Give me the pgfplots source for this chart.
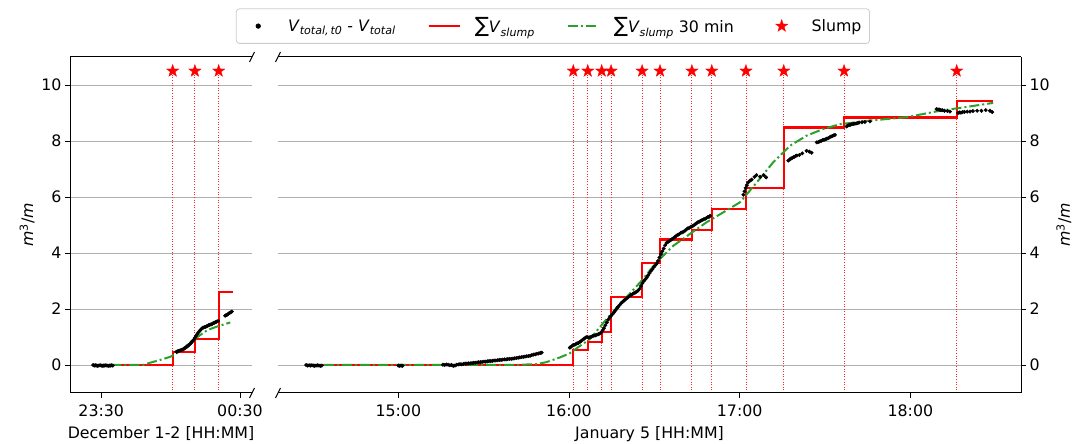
\documentclass[border=0pt]{standalone}
\usepackage{pgfplots}
\pgfplotsset{compat=1.18}
\usepackage{fontspec}
\setmainfont{DejaVu Sans}
\usetikzlibrary{plotmarks}
\definecolor{mygreen}{HTML}{2CA02C}
\definecolor{gridgray}{HTML}{B0B0B0}
\newcommand{\fs}{\fontsize{15.8}{19}\selectfont}

\pgfdeclareplotmark{fstar}{%
  \pgfpathmoveto{\pgfpointpolar{90}{\pgfplotmarksize}}%
  \pgfpathlineto{\pgfpointpolar{126}{0.4\pgfplotmarksize}}%
  \pgfpathlineto{\pgfpointpolar{162}{\pgfplotmarksize}}%
  \pgfpathlineto{\pgfpointpolar{198}{0.4\pgfplotmarksize}}%
  \pgfpathlineto{\pgfpointpolar{234}{\pgfplotmarksize}}%
  \pgfpathlineto{\pgfpointpolar{270}{0.4\pgfplotmarksize}}%
  \pgfpathlineto{\pgfpointpolar{306}{\pgfplotmarksize}}%
  \pgfpathlineto{\pgfpointpolar{342}{0.4\pgfplotmarksize}}%
  \pgfpathlineto{\pgfpointpolar{18}{\pgfplotmarksize}}%
  \pgfpathlineto{\pgfpointpolar{54}{0.4\pgfplotmarksize}}%
  \pgfpathclose
  \pgfusepathqfillstroke}

\pgfplotsset{
  mybase/.style={
    scale only axis, height=336pt, ymin=-1, ymax=11, ytick={0,2,4,6,8,10},
    ymajorgrids, grid style={gridgray, line width=0.9pt},
    axis line style={draw=none},
    tick align=outside, major tick length=5pt, tick style={black, line width=0.9pt},
    xtick pos=left,
    tick label style={font=\fs},
    xticklabel style={yshift=-3pt},
    label style={font=\fs},
    xlabel style={yshift=-3pt},
    /pgf/number format/assume math mode=true,
    clip=false,
    ylabel={\textit{m}\textsuperscript{3}/\textit{m}},
  },
  dotsty/.style={only marks, mark=*, mark size=1.75pt, black},
  stepsty/.style={red, line width=2.2pt, const plot},
  greensty/.style={mygreen, line width=2pt, dash pattern=on 10pt off 3pt on 2pt off 3pt},
  starsty/.style={only marks, red, mark=fstar, mark size=6.5pt, mark options={fill=red, draw=red, line width=0.3pt}},
  vlsty/.style={red!85, line width=0.8pt, dash pattern=on 1pt off 1.6pt, forget plot, unbounded coords=jump},
  legmark/.style={legend image code/.code={\path (0pt,0pt) (31pt,0pt); \draw[##1, mark size=2.2pt] plot coordinates {(15.5pt,0pt)};}},
  legstar/.style={legend image code/.code={\path (0pt,0pt) (31pt,0pt); \draw[##1] plot coordinates {(15.5pt,0pt)};}},
  legline/.style={legend image code/.code={\draw[##1] (0pt,0pt) -- (31pt,0pt);}},
}

\begin{document}
\begin{tikzpicture}
\useasboundingbox (0pt,0pt) rectangle (1087pt,444pt);

% ---------------- left panel ----------------
\begin{axis}[mybase, at={(70pt,51pt)}, anchor=south west, width=182pt,
  xmin=16.5, xmax=95.2, xtick={30,90}, xticklabels={23:30,00:30},
  ytick pos=left, xlabel={December 1-2 [HH:MM]}]
\addplot[vlsty] coordinates {(60.9,-1) (60.9,10.5) (60.9,nan) (70.5,-1) (70.5,10.5) (70.5,nan) (80.8,-1) (80.8,10.5)};
\addplot[dotsty] coordinates {
(26.5,0.0)(27,-0.02)(27.5,-0.01)(28,-0.02)(28.5,-0.03)(29,-0.02)(29.5,-0.01)(30,-0.02)(30.5,-0.03)(31,-0.02)(31.5,-0.02)(32,-0.01)(32.5,-0.02)(33,-0.03)(33.5,-0.02)(34,-0.02)(34.5,-0.01)(35,-0.02)
(62.5,0.47)(63,0.49)(63.5,0.5)(64,0.52)(64.5,0.53)(65,0.55)(65.5,0.56)(66,0.59)(66.5,0.62)(67,0.65)(67.5,0.68)(68,0.72)(68.5,0.76)(69,0.8)(69.5,0.85)(70,0.9)(70.5,0.97)(71,1.04)(71.5,1.1)(72,1.16)(72.5,1.21)(73,1.26)(73.5,1.3)(74,1.33)(74.5,1.35)(75,1.36)(75.5,1.38)(76,1.4)(76.5,1.42)(77,1.44)(77.5,1.45)(78,1.47)(78.5,1.5)(79,1.51)(79.5,1.53)(80,1.55)(80.5,1.57)
(83.6,1.76)(84,1.78)(84.5,1.8)(85,1.83)(85.5,1.86)(86,1.88)(86.5,1.91)};
\addplot[stepsty] coordinates {(26.6,0) (60.9,0.45) (70.5,0.92) (80.8,2.6) (86.9,2.6)};
\addplot[greensty] coordinates {(26.6,0) (48,0) (51.1,0.08) (55,0.17) (59.8,0.29) (62.6,0.42) (65.6,0.6) (69,0.85) (72.8,1.07) (76,1.25) (80,1.37) (85.8,1.52)};
\addplot[starsty] coordinates {(60.9,10.5) (70.5,10.5) (80.8,10.5)};
\draw[black, line width=1pt] (rel axis cs:0,0) -- (rel axis cs:1,0);
\draw[black, line width=1pt] (rel axis cs:0,1) -- (rel axis cs:1,1);
\draw[black, line width=1pt] (rel axis cs:0,0) -- (rel axis cs:0,1);
\draw[black, line width=1pt] ([xshift=-2.5pt,yshift=-5pt]rel axis cs:1,1) -- ([xshift=2.5pt,yshift=5pt]rel axis cs:1,1);
\draw[black, line width=1pt] ([xshift=-2.5pt,yshift=-5pt]rel axis cs:1,0) -- ([xshift=2.5pt,yshift=5pt]rel axis cs:1,0);
\end{axis}

% ---------------- right panel ----------------
\begin{axis}[mybase, at={(278pt,51pt)}, anchor=south west, width=743pt,
  xmin=17.7, xmax=278.9, xtick={60,120,180,240}, xticklabels={15:00,16:00,17:00,18:00},
  ytick pos=right, yticklabel pos=right, xlabel={January 5 [HH:MM]},
  legend columns=4,
  legend style={at={(0.370,1.092)}, anchor=center, draw=black!20, rounded corners=3pt,
    line width=0.8pt, font=\fs, inner xsep=6pt, inner ysep=7pt,
    /tikz/every odd column/.append style={column sep=12pt},
    /tikz/every even column/.append style={column sep=30pt}},
  legend cell align=left]
\addplot[vlsty] coordinates {(121.5,-1)(121.5,10.5)(121.5,nan)(126.6,-1)(126.6,10.5)(126.6,nan)(131.5,-1)(131.5,10.5)(131.5,nan)(134.8,-1)(134.8,10.5)(134.8,nan)(145.7,-1)(145.7,10.5)(145.7,nan)(152.0,-1)(152.0,10.5)(152.0,nan)(163.2,-1)(163.2,10.5)(163.2,nan)(170.2,-1)(170.2,10.5)(170.2,nan)(182.2,-1)(182.2,10.5)(182.2,nan)(195.5,-1)(195.5,10.5)(195.5,nan)(216.7,-1)(216.7,10.5)(216.7,nan)(256.3,-1)(256.3,10.5)};
\addplot[dotsty, legmark] coordinates {
(27.6,0.0)(28.1,-0.02)(28.6,-0.01)(29.1,-0.02)(29.6,-0.01)(30.1,-0.02)(30.6,-0.03)(31.1,-0.02)(31.6,-0.01)(32.1,-0.02)(32.6,-0.03)(33.1,-0.02)
(60,-0.02)(60.5,-0.03)(61,-0.02)(61.5,-0.03)
(75.7,0.01)(76.3,0.0)(76.9,0.02)(77.5,0.01)(78.1,-0.01)(78.7,0.0)(79.3,-0.03)(79.9,-0.02)(80.5,0.01)(81.1,0.02)(81.7,0.03)(82.3,0.02)(82.9,0.04)(83.5,0.05)(84.1,0.05)(84.7,0.06)(85.3,0.06)(85.9,0.07)(86.5,0.08)(87.1,0.08)(87.7,0.09)(88.3,0.1)(88.9,0.1)(89.5,0.11)(90.1,0.12)(90.7,0.12)(91.3,0.13)(91.9,0.14)(92.5,0.14)(93.1,0.15)(93.7,0.16)(94.3,0.16)(94.9,0.17)(95.5,0.18)(96.1,0.18)(96.7,0.19)(97.3,0.2)(97.9,0.2)(98.5,0.21)(99.1,0.22)(99.7,0.22)(100.3,0.23)(100.9,0.24)(101.5,0.25)(102.1,0.26)(102.7,0.27)(103.3,0.28)(103.9,0.29)(104.5,0.3)(105.1,0.31)(105.7,0.32)(106.3,0.33)(106.9,0.35)(107.5,0.37)(108.1,0.38)(108.7,0.4)(109.3,0.41)(109.9,0.43)(110.4,0.44)
(120.3,0.62)(120.8,0.66)(121.3,0.7)(121.8,0.72)(122.3,0.74)(122.8,0.77)(123.3,0.79)(123.8,0.82)(124.3,0.86)(124.8,0.9)(125.3,0.94)(125.8,0.98)(126.3,1.0)(126.8,0.98)(127.3,0.99)(127.8,1.01)(128.3,1.03)(128.8,1.05)(129.3,1.06)(129.8,1.08)(130.3,1.1)(130.8,1.12)(131.3,1.16)(131.8,1.24)(132.3,1.32)(132.8,1.42)(133.3,1.52)(133.8,1.62)(134.3,1.7)(134.8,1.76)(135.3,1.82)(135.8,1.88)(136.3,1.95)(136.8,2.02)(137.3,2.08)(137.8,2.14)(138.3,2.2)(138.8,2.25)(139.3,2.3)(139.8,2.34)(140.3,2.38)(140.8,2.42)(141.3,2.46)(141.8,2.5)(142.3,2.53)(142.8,2.56)(143.3,2.59)(143.8,2.62)(144.3,2.66)(144.8,2.72)(145.3,2.82)(145.8,2.92)(146.3,3.0)(146.8,3.06)(147.3,3.12)(147.8,3.2)(148.3,3.28)(148.8,3.36)(149.3,3.42)(149.8,3.5)(150.3,3.56)(150.8,3.62)(151.3,3.72)(151.8,3.84)(152.3,3.96)(152.8,4.06)(153.3,4.16)(153.8,4.28)(154.3,4.36)(154.8,4.4)(155.3,4.43)(155.8,4.46)(156.3,4.5)(156.8,4.54)(157.3,4.58)(157.8,4.62)(158.3,4.65)(158.8,4.68)(159.3,4.72)(159.8,4.74)(160.3,4.76)(160.8,4.8)(161.3,4.84)(161.8,4.88)(162.3,4.9)(162.8,4.93)(163.3,4.96)(163.8,4.98)(164.3,5.02)(164.8,5.06)(165.3,5.1)(165.8,5.12)(166.3,5.15)(166.8,5.18)(167.3,5.2)(167.8,5.22)(168.3,5.25)(168.8,5.28)(169.3,5.3)(169.6,5.33)
(181.3,6.08)(181.7,6.2)(182.1,6.32)(182.5,6.42)(183,6.52)(183.6,6.58)(184.2,6.62)(185.2,6.72)(185.9,6.78)(187.2,6.72)(188.5,6.78)(189.3,6.7)
(197.1,7.3)(197.6,7.34)(198.1,7.38)(198.6,7.4)(199.1,7.43)(199.6,7.46)(200.1,7.48)(201,7.5)(202,7.56)(203.5,7.65)(204.5,7.62)(205.3,7.58)(207.1,7.95)(207.6,7.96)(208.1,7.98)(208.6,8.0)(209.1,8.03)(209.6,8.04)(210.1,8.06)(210.6,8.08)(211.1,8.1)(211.6,8.13)(212.1,8.16)(212.6,8.18)(213.1,8.2)(213.5,8.22)
(217.6,8.52)(218,8.55)(218.5,8.57)(219,8.58)(219.5,8.6)(220,8.61)(220.5,8.62)(221,8.63)(221.5,8.64)(222,8.66)(223,8.67)(224,8.68)(225.8,8.7)
(249.2,9.14)(249.7,9.13)(250.2,9.12)(250.7,9.1)(251.2,9.1)(252,9.08)(253,9.07)(253.9,9.05)(256.8,9.0)(257.3,9.02)(257.8,9.01)(258.3,9.03)(259,9.04)(260,9.05)(261,9.05)(262,9.07)(263.5,9.08)(265,9.08)(266.5,9.1)(268,9.08)(268.8,9.03)};
\addlegendentry{\textit{V}\textsubscript{\textit{total,\,t0}} - \textit{V}\textsubscript{\textit{total}}}
\addplot[stepsty, legline] coordinates {(27.6,0) (121.5,0.54) (126.6,0.81) (131.5,1.19) (134.8,2.42) (145.7,3.63) (152.0,4.48) (163.2,4.81) (170.2,5.57) (182.2,6.31) (195.5,8.48) (216.7,8.84) (256.3,9.42) (268.9,9.42)};
\addlegendentry{{\fontsize{21}{21}\selectfont ∑}\textit{V}\textsubscript{\textit{slump}}}
\addplot[greensty, legline] coordinates {(27.6,0) (100,0) (108.6,0.03) (112,0.1) (116.8,0.27) (120.3,0.42) (123,0.62) (127.4,0.93) (133.2,1.64) (139.1,2.3) (145,2.95) (150.8,3.67) (156.7,4.26) (162.5,4.68) (168.4,5.1) (174.2,5.45) (180.1,5.81) (186,6.52) (191.8,7.24) (197.7,7.83) (203.5,8.19) (209.4,8.43) (215.3,8.6) (225,8.72) (238.7,8.85) (250.4,9.08) (260,9.22) (269.1,9.36)};
\addlegendentry{{\fontsize{21}{21}\selectfont ∑}\textit{V}\textsubscript{\textit{slump}} 30 min}
\addplot[starsty, legstar] coordinates {(121.5,10.5)(126.6,10.5)(131.5,10.5)(134.8,10.5)(145.7,10.5)(152.0,10.5)(163.2,10.5)(170.2,10.5)(182.2,10.5)(195.5,10.5)(216.7,10.5)(256.3,10.5)};
\addlegendentry{Slump}
\draw[black, line width=1pt] (rel axis cs:0,0) -- (rel axis cs:1,0);
\draw[black, line width=1pt] (rel axis cs:0,1) -- (rel axis cs:1,1);
\draw[black, line width=1pt] (rel axis cs:1,0) -- (rel axis cs:1,1);
\draw[black, line width=1pt] ([xshift=-2.5pt,yshift=-5pt]rel axis cs:0,1) -- ([xshift=2.5pt,yshift=5pt]rel axis cs:0,1);
\draw[black, line width=1pt] ([xshift=-2.5pt,yshift=-5pt]rel axis cs:0,0) -- ([xshift=2.5pt,yshift=5pt]rel axis cs:0,0);
\end{axis}
\end{tikzpicture}
\end{document}
